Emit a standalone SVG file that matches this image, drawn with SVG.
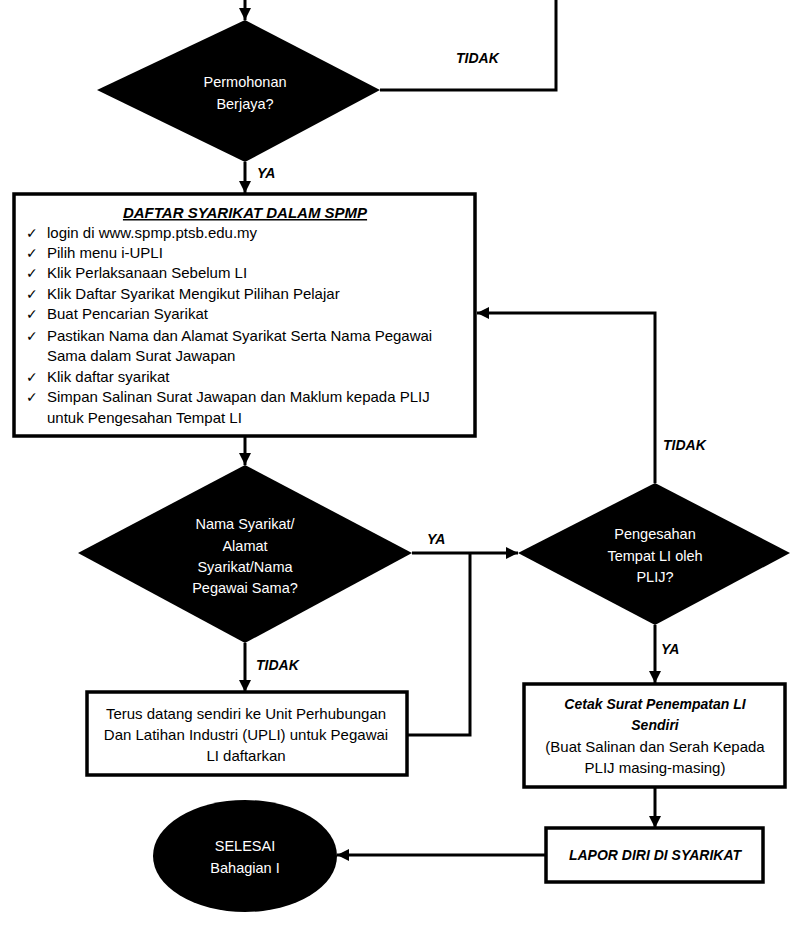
<svg xmlns="http://www.w3.org/2000/svg" width="811" height="928" viewBox="0 0 811 928">
<defs>
<marker id="ah" viewBox="0 0 10 10" refX="10" refY="5" markerWidth="4" markerHeight="4" orient="auto" markerUnits="strokeWidth">
<path d="M0,0 L10,5 L0,10 z" fill="#000"/>
</marker>
<style>
.ln{fill:none;stroke:#000;stroke-width:3}
.ar{fill:none;stroke:#000;stroke-width:3;marker-end:url(#ah)}
.box{fill:#fff;stroke:#000;stroke-width:3.5}
.blk{fill:#000}
.t{font-family:"Liberation Sans",Arial,sans-serif;font-size:15px;fill:#000}
.w{font-family:"Liberation Sans",Arial,sans-serif;font-size:14.5px;fill:#fff;text-anchor:middle}
.c{text-anchor:middle}
.bi{font-family:"Liberation Sans",Arial,sans-serif;font-size:14px;font-weight:bold;font-style:italic;fill:#000}
.ck{font-family:"DejaVu Sans",sans-serif;font-size:14px;fill:#000}
</style>
</defs>
<rect width="811" height="928" fill="#fff"/>
<g id="connectors">
<line class="ar" x1="245" y1="0" x2="245" y2="20"/>
<polyline class="ln" points="380,90 556,90 556,0"/>
<line class="ar" x1="245" y1="162" x2="245" y2="193"/>
<line class="ar" x1="245" y1="436" x2="245" y2="465"/>
<line class="ar" x1="412" y1="553" x2="518" y2="553"/>
<polyline class="ln" points="407,735 470,735 470,553"/>
<polyline class="ar" points="655,483 655,313 477,313"/>
<line class="ar" x1="245" y1="643" x2="245" y2="692"/>
<line class="ar" x1="655" y1="625" x2="655" y2="683"/>
<line class="ar" x1="655" y1="787" x2="655" y2="828"/>
<line class="ar" x1="546" y1="855" x2="337" y2="855"/>
<text class="bi" x="456" y="63">TIDAK</text>
<text class="bi" x="257" y="178">YA</text>
<text class="bi" x="427" y="544">YA</text>
<text class="bi" x="663" y="450">TIDAK</text>
<text class="bi" x="256" y="670">TIDAK</text>
<text class="bi" x="661" y="654">YA</text>
</g>
<g id="d1">
<polygon class="blk" points="245,20 380,90 245,162 97,90"/>
<text class="w" x="245" y="87">Permohonan</text>
<text class="w" x="245" y="109">Berjaya?</text>
</g>
<g id="box1">
<rect class="box" x="14" y="194" width="461" height="242"/>
<text class="bi c" x="245" y="218" style="font-size:15px;text-decoration:underline">DAFTAR SYARIKAT DALAM SPMP</text>
<g class="ck">
<text x="26" y="238">✓</text>
<text x="26" y="258">✓</text>
<text x="26" y="278">✓</text>
<text x="26" y="299">✓</text>
<text x="26" y="319">✓</text>
<text x="26" y="341">✓</text>
<text x="26" y="382">✓</text>
<text x="26" y="402">✓</text>
</g>
<text class="t" x="47" y="238">login di www.spmp.ptsb.edu.my</text>
<text class="t" x="47" y="258">Pilih menu i-UPLI</text>
<text class="t" x="47" y="278">Klik Perlaksanaan Sebelum LI</text>
<text class="t" x="47" y="299">Klik Daftar Syarikat Mengikut Pilihan Pelajar</text>
<text class="t" x="47" y="319">Buat Pencarian Syarikat</text>
<text class="t" x="47" y="341">Pastikan Nama dan Alamat Syarikat Serta Nama Pegawai</text>
<text class="t" x="47" y="361">Sama dalam Surat Jawapan</text>
<text class="t" x="47" y="382">Klik daftar syarikat</text>
<text class="t" x="47" y="402">Simpan Salinan Surat Jawapan dan Maklum kepada PLIJ</text>
<text class="t" x="47" y="423">untuk Pengesahan Tempat LI</text>
</g>
<g id="d2">
<polygon class="blk" points="245,465 412,553 245,643 78,553"/>
<text class="w" x="245" y="529">Nama Syarikat/</text>
<text class="w" x="245" y="551">Alamat</text>
<text class="w" x="245" y="572">Syarikat/Nama</text>
<text class="w" x="245" y="593">Pegawai Sama?</text>
</g>
<g id="d3">
<polygon class="blk" points="655,483 790,553 655,625 518,553"/>
<text class="w" x="655" y="539">Pengesahan</text>
<text class="w" x="655" y="561">Tempat LI oleh</text>
<text class="w" x="655" y="582">PLIJ?</text>
</g>
<g id="box2">
<rect class="box" x="87" y="692" width="320" height="83"/>
<text class="t c" x="246" y="719">Terus datang sendiri ke Unit Perhubungan</text>
<text class="t c" x="246" y="740">Dan Latihan Industri (UPLI) untuk Pegawai</text>
<text class="t c" x="246" y="761">LI daftarkan</text>
</g>
<g id="box3">
<rect class="box" x="524" y="684" width="261" height="103"/>
<text class="bi c" x="655" y="709">Cetak Surat Penempatan LI</text>
<text class="bi c" x="655" y="730">Sendiri</text>
<text class="t c" x="655" y="752">(Buat Salinan dan Serah Kepada</text>
<text class="t c" x="655" y="773">PLIJ masing-masing)</text>
</g>
<g id="box4">
<rect class="box" x="546" y="828" width="217" height="54"/>
<text class="bi c" x="655" y="860">LAPOR DIRI DI SYARIKAT</text>
</g>
<g id="end">
<ellipse class="blk" cx="245" cy="856" rx="92" ry="56"/>
<text class="w" x="245" y="851">SELESAI</text>
<text class="w" x="245" y="873">Bahagian I</text>
</g>
</svg>
